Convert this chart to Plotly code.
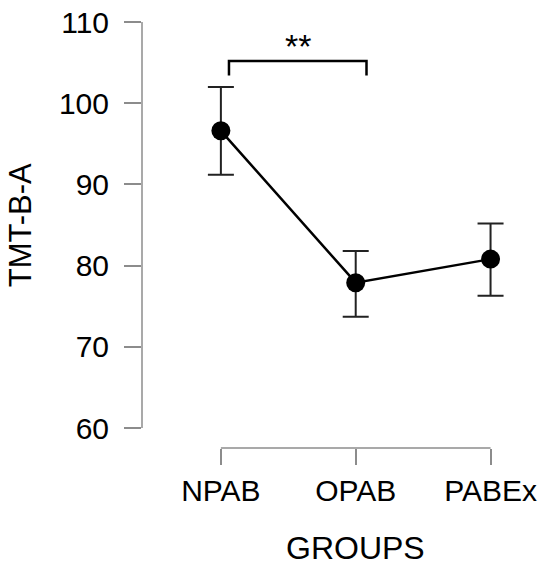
import plotly.graph_objects as go

# data (group means with error bars)
groups = ["NPAB", "OPAB", "PABEx"]
means = [96.6, 77.9, 80.8]
upper = [102.0, 81.8, 85.2]
lower = [91.2, 73.7, 76.3]

y_ticks = [60, 70, 80, 90, 100, 110]

# significance bracket between NPAB and OPAB
sig_label = "**"
sig_y = 105.2
sig_drop = 103.4

err_plus = [u - m for u, m in zip(upper, means)]
err_minus = [m - l for m, l in zip(means, lower)]

FONT = "Liberation Sans, Arial, sans-serif"
AXIS_GREY = "#8c8c8c"

fig = go.Figure()
fig.add_trace(go.Scatter(
    x=groups, y=means,
    mode="lines+markers",
    line=dict(color="black", width=2.5),
    marker=dict(color="black", size=19),
    error_y=dict(type="data", symmetric=False, array=err_plus, arrayminus=err_minus,
                 color="#222222", thickness=2, width=13),
    showlegend=False,
))

# ranged axis lines (only between first and last tick)
fig.add_shape(type="line", xref="paper", yref="y", x0=0, x1=0, y0=y_ticks[0], y1=y_ticks[-1],
              line=dict(color=AXIS_GREY, width=1.5))
fig.add_shape(type="line", xref="x", yref="paper", x0=0, x1=len(groups) - 1, y0=0, y1=0,
              line=dict(color=AXIS_GREY, width=1.5))

# bracket
fig.add_shape(type="path", xref="x", yref="y",
              path=f"M 0.06 {sig_drop} L 0.06 {sig_y} L 1.08 {sig_y} L 1.08 {sig_drop}",
              line=dict(color="black", width=2.5))
fig.add_annotation(x=0.57, y=sig_y, xref="x", yref="y", text=sig_label, showarrow=False,
                   yanchor="bottom", yshift=-6, font=dict(size=34, color="black", family=FONT))

# axis titles as annotations centred on the ranged axes
fig.add_annotation(x=1, y=-0.235, xref="x", yref="paper", text="GROUPS", showarrow=False,
                   yanchor="middle", font=dict(size=32, color="black", family=FONT))
fig.add_annotation(x=-0.313, y=85, xref="paper", yref="y", text="TMT-B-A", showarrow=False,
                   textangle=-90, xanchor="center", font=dict(size=31, color="black", family=FONT))

fig.update_xaxes(type="category", range=[-0.585, 2.3], showline=False, showgrid=False,
                 zeroline=False, ticks="outside", ticklen=16, tickwidth=1.5, tickcolor=AXIS_GREY,
                 tickfont=dict(size=30, color="black", family=FONT), ticklabelstandoff=0,
                 automargin=False)
fig.update_yaxes(range=[57.54, 110], tickvals=y_ticks, showline=False, showgrid=False,
                 zeroline=False, ticks="outside", ticklen=17, tickwidth=1.5, tickcolor=AXIS_GREY,
                 tickfont=dict(size=30, color="black", family=FONT), ticklabelstandoff=9,
                 automargin=False)

fig.update_layout(width=550, height=569, plot_bgcolor="white", paper_bgcolor="white",
                  margin=dict(l=142, r=19, t=22, b=121, autoexpand=False), font=dict(family=FONT))

# drop the default 8px page margin so the figure sits flush in the window
fig.write_html("out.html", config={"displayModeBar": False},
               post_script="document.body.style.margin='0px';")
